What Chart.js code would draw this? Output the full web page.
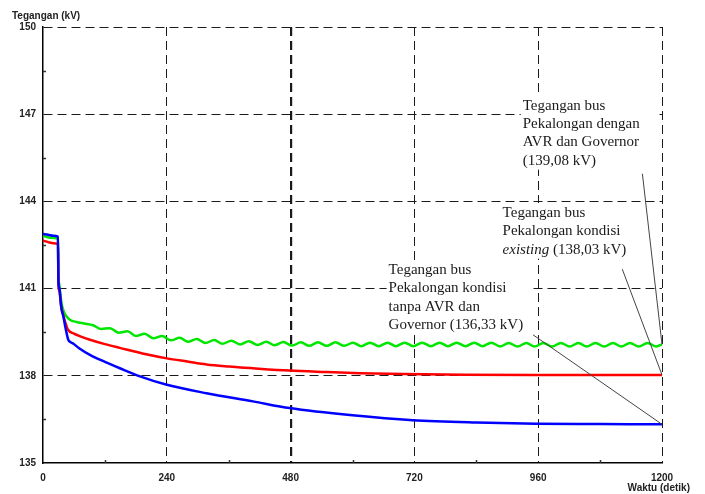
<!DOCTYPE html>
<html>
<head>
<meta charset="utf-8">
<script src="https://cdn.jsdelivr.net/npm/chart.js@4.4.1/dist/chart.umd.min.js"></script>
<style>
  body { margin: 0; background: #fff; }
  #wrap { width: 705px; height: 494px; }
</style>
</head>
<body>
<div id="wrap"><canvas id="chart" width="705" height="494"></canvas></div>
<script>
// axis ticks
const xTicks = [0, 240, 480, 720, 960, 1200];
const yTicks = [135, 138, 141, 144, 147, 150];
const xMinor = [120, 360, 600, 840, 1080];
const yMinor = [136.5, 139.5, 142.5, 145.5, 148.5];

// bus voltage with AVR and governor (green)
const timeAvrGov = [0, 5, 15, 29, 30, 31, 33, 36, 40, 45, 52, 65, 80, 97,
  113, 130, 147, 164, 180, 197, 214, 231, 248, 265, 281, 298, 315, 332, 348, 365,
  382, 399, 416, 433, 449, 466, 483, 500, 516, 533, 550, 567, 584, 601, 617, 634,
  651, 668, 684, 701, 718, 735, 752, 769, 785, 802, 819, 836, 852, 869, 886, 903,
  920, 937, 953, 970, 987, 1004, 1021, 1038, 1054, 1071, 1088, 1105, 1121, 1138,
  1155, 1172, 1189, 1200];
const voltAvrGov = [142.83, 142.79, 142.75, 142.71, 141.10, 141.22, 140.90, 140.50, 140.22, 140.06, 139.93, 139.85, 139.80, 139.74,
  139.61, 139.64, 139.48, 139.53, 139.37, 139.45, 139.29, 139.37, 139.22, 139.31, 139.17, 139.27, 139.13, 139.23, 139.10, 139.21,
  139.08, 139.19, 139.06, 139.17, 139.05, 139.16, 139.04, 139.15, 139.03, 139.15, 139.03, 139.15, 139.03, 139.14, 139.02, 139.14,
  139.02, 139.14, 139.02, 139.14, 139.02, 139.14, 139.02, 139.14, 139.02, 139.14, 139.02, 139.14, 139.02, 139.14, 139.01, 139.13,
  139.01, 139.13, 139.01, 139.13, 139.01, 139.13, 139.01, 139.13, 139.01, 139.13, 139.01, 139.13, 139.01, 139.13,
  139.01, 139.13, 139.01, 139.08];

// existing condition (red)
const timeExisting = [0, 10, 20, 29, 30, 32, 35, 39, 43, 48, 60, 75, 91, 120, 149, 200, 240, 280, 317, 360, 407, 478, 550, 614, 700, 817, 950, 1200];
const voltExisting = [142.65, 142.60, 142.56, 142.53, 141.10, 140.90, 140.40, 140.10, 139.85, 139.60, 139.45, 139.34, 139.24, 139.09, 138.96, 138.74, 138.60, 138.49, 138.39, 138.32, 138.26, 138.18, 138.13, 138.09, 138.06, 138.04, 138.03, 138.03];

// without AVR and governor (blue)
const timeNoAvr = [0, 10, 20, 29, 30, 32, 34, 36, 40, 43, 46, 49, 54, 59, 70, 91, 120, 149, 188, 240, 317, 407, 478, 600, 717, 840, 956, 1080, 1200];
const voltNoAvr = [142.88, 142.85, 142.82, 142.79, 141.20, 141.00, 140.60, 140.30, 140.00, 139.70, 139.45, 139.24, 139.15, 139.10, 138.95, 138.72, 138.48, 138.26, 137.98, 137.69, 137.40, 137.12, 136.89, 136.64, 136.47, 136.39, 136.35, 136.34, 136.33];

// callout texts: anchor (time, kV) of first line, leader start and end
const notes = [
  { lines: [['Tegangan bus'], ['Pekalongan dengan'], ['AVR dan Governor'], ['(139,08 kV)']],
    at: [930, 147.29], boxW: 135, from: [1162, 144.95], to: [1200, 139.08] },
  { lines: [['Tegangan bus'], ['Pekalongan kondisi'], ['existing', ' (138,03 kV)']],
    at: [891, 143.60], boxW: 128, from: [1123, 141.67], to: [1200, 138.03] },
  { lines: [['Tegangan bus'], ['Pekalongan kondisi'], ['tanpa AVR dan'], ['Governor (136,33 kV)']],
    at: [670, 141.64], boxW: 146, from: [950, 139.41], to: [1200, 136.33] }
];

const pts = (t, v) => t.map((x, i) => ({ x: x, y: v[i] }));

const extras = {
  id: 'extras',
  beforeDatasetsDraw(chart) {
    const { ctx, scales: { x, y } } = chart;
    ctx.save();
    ctx.strokeStyle = '#333';
    ctx.lineWidth = 1.5;
    ctx.beginPath();
    xMinor.forEach(v => {
      const px = Math.round(x.getPixelForValue(v)) + 0.5;
      ctx.moveTo(px, y.bottom);
      ctx.lineTo(px, y.bottom - 3);
    });
    yMinor.forEach(v => {
      const py = Math.round(y.getPixelForValue(v)) + 0.5;
      ctx.moveTo(x.left, py);
      ctx.lineTo(x.left + 3, py);
    });
    ctx.stroke();

    ctx.fillStyle = '#222';
    ctx.font = 'bold 10px "Liberation Sans", Arial, sans-serif';
    ctx.textBaseline = 'middle';
    ctx.textAlign = 'left';
    ctx.fillText('Tegangan (kV)', 12, 16);
    ctx.textAlign = 'right';
    ctx.fillText('Waktu (detik)', 690, 488);
    ctx.restore();
  },
  afterDraw(chart) {
    const { ctx, scales: { x, y } } = chart;
    const lh = 18.3;
    ctx.save();
    notes.forEach(n => {
      const left = x.getPixelForValue(n.at[0]);
      const top = y.getPixelForValue(n.at[1]);
      ctx.fillStyle = '#fff';
      ctx.fillRect(left - 2, top - 10, n.boxW, lh * (n.lines.length - 1) + 19);

      ctx.strokeStyle = '#444';
      ctx.lineWidth = 1;
      ctx.beginPath();
      ctx.moveTo(x.getPixelForValue(n.from[0]), y.getPixelForValue(n.from[1]));
      ctx.lineTo(x.getPixelForValue(n.to[0]), y.getPixelForValue(n.to[1]));
      ctx.stroke();

      ctx.fillStyle = '#1a1a1a';
      ctx.textBaseline = 'middle';
      ctx.textAlign = 'left';
      n.lines.forEach((parts, i) => {
        let px = left;
        parts.forEach((s, j) => {
          const italic = parts.length > 1 && j === 0;
          ctx.font = (italic ? 'italic ' : '') + '15px "Liberation Serif", "Times New Roman", serif';
          ctx.fillText(s, px, top + i * lh);
          px += ctx.measureText(s).width;
        });
      });
    });
    ctx.restore();
  }
};

const tickFont = { family: '"Liberation Sans", Arial, sans-serif', size: 10, weight: 'bold' };

new Chart(document.getElementById('chart'), {
  type: 'line',
  data: {
    datasets: [
      { data: pts(timeNoAvr, voltNoAvr), borderColor: '#0000ff', borderWidth: 2.5, cubicInterpolationMode: 'monotone' },
      { data: pts(timeExisting, voltExisting), borderColor: '#ff0000', borderWidth: 2.5, cubicInterpolationMode: 'monotone' },
      { data: pts(timeAvrGov, voltAvrGov), borderColor: '#00e600', borderWidth: 2.5, cubicInterpolationMode: 'monotone' }
    ]
  },
  options: {
    responsive: false,
    animation: false,
    events: [],
    elements: { point: { radius: 0 } },
    layout: { padding: { top: 27, right: 43, left: 0, bottom: 0 } },
    plugins: { legend: { display: false }, tooltip: { enabled: false } },
    scales: {
      x: {
        type: 'linear',
        min: 0,
        max: 1200,
        afterBuildTicks: s => { s.ticks = xTicks.map(v => ({ value: v })); },
        afterFit: s => { s.height = 31; },
        ticks: { color: '#222', font: tickFont, padding: 9, maxRotation: 0, callback: v => String(v) },
        grid: {
          drawTicks: false,
          color: c => (c.tick && c.tick.value === 0 ? 'rgba(0,0,0,0)' : '#1a1a1a'),
          lineWidth: c => (c.tick && c.tick.value === 480 ? 2.2 : 1)
        },
        border: { color: '#000', width: 1.5, dash: [9, 5] }
      },
      y: {
        min: 135,
        max: 150,
        afterBuildTicks: s => { s.ticks = yTicks.map(v => ({ value: v })); },
        afterFit: s => { s.width = 43; },
        ticks: { color: '#222', font: tickFont, padding: 7, callback: v => String(v) },
        grid: {
          drawTicks: false,
          color: c => (c.tick && c.tick.value === 135 ? 'rgba(0,0,0,0)' : '#1a1a1a'),
          lineWidth: 1
        },
        border: { color: '#000', width: 1.5, dash: [9, 5] }
      }
    }
  },
  plugins: [extras]
});
</script>
</body>
</html>
